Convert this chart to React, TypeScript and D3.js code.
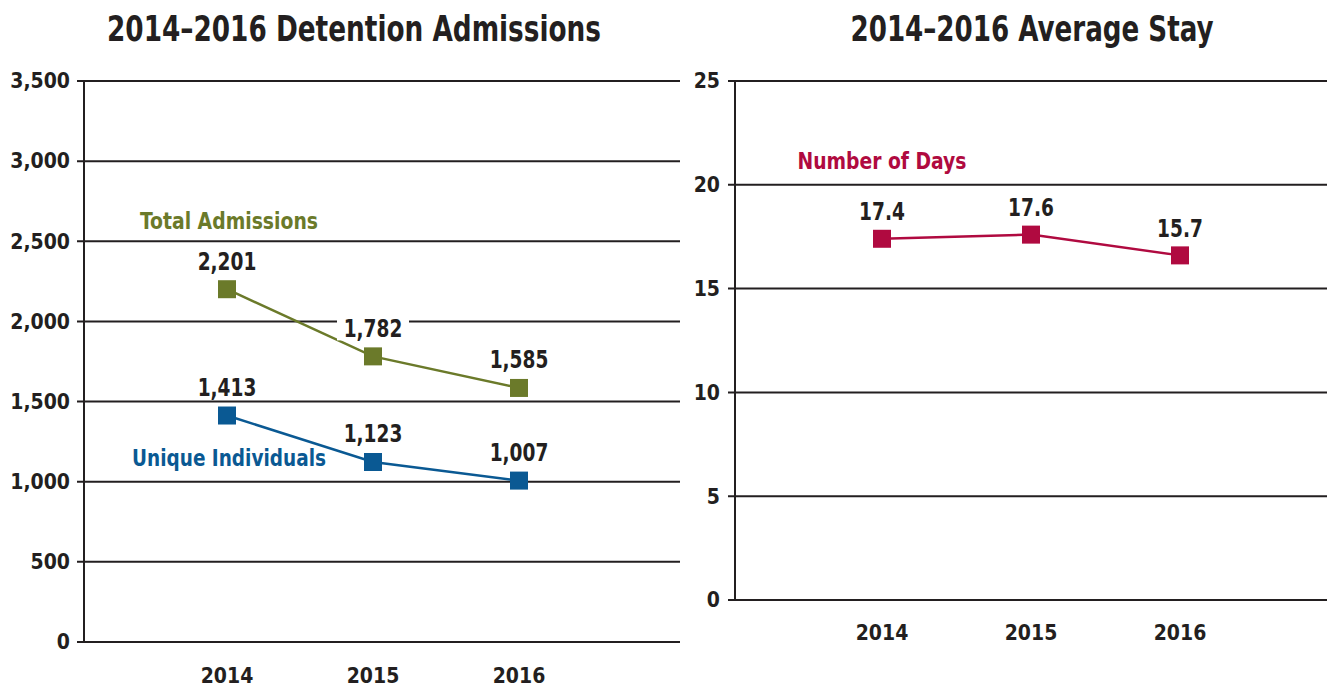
import React from "react";
import * as d3 from "d3";

const years = ["2014", "2015", "2016"];
const totalAdmissions = [2201, 1782, 1585];
const uniqueIndividuals = [1413, 1123, 1007];
const avgStayDays = [17.4, 17.6, 16.6];
const avgStayLabels = ["17.4", "17.6", "15.7"];
const admissionTicks = [0, 500, 1000, 1500, 2000, 2500, 3000, 3500];
const stayTicks = [0, 5, 10, 15, 20, 25];

const FONT = "'Liberation Sans Narrow', 'DejaVu Sans Condensed', 'Roboto', sans-serif";
const INK = "#231f20";
const OLIVE = "#6b7a2a";
const BLUE = "#0a5993";
const CRIMSON = "#b00a40";

const fmt = d3.format(",");

const Marker = ({ x, y, color }) => (
  <rect x={x - 9} y={y - 9} width={18} height={18} fill={color} />
);

// condensed text, squeezed horizontally around its anchor
const NarrowText = ({ x, y, size, fill, children, squeeze = 0.86 }) => (
  <text
    transform={`translate(${x},${y}) scale(${squeeze},1)`}
    dy="0.35em"
    textAnchor="middle"
    fontSize={size}
    fill={fill}
  >
    {children}
  </text>
);

const App = () => {
  // left panel scales
  const xL = d3.scalePoint().domain(years).range([227, 519]);
  const yL = d3.scaleLinear().domain([0, 3500]).range([642, 81]);
  // right panel scales
  const xR = d3.scalePoint().domain(years).range([882, 1180]);
  const yR = d3.scaleLinear().domain([0, 25]).range([600, 81]);

  const lineL = (vals) =>
    d3.line().x((d, i) => xL(years[i])).y((d) => yL(d))(vals);
  const lineR = d3
    .line()
    .x((d, i) => xR(years[i]))
    .y((d) => yR(d))(avgStayDays);

  const series = [
    { vals: totalAdmissions, color: OLIVE },
    { vals: uniqueIndividuals, color: BLUE },
  ];

  return (
    <svg
      width={1327}
      height={687}
      style={{ position: "absolute", left: 0, top: 0, background: "#fff" }}
      fontFamily={FONT}
      fontWeight="bold"
    >
      {/* titles */}
      <text x={354} y={41} textAnchor="middle" fontSize={35} fill={INK}
        textLength={494} lengthAdjust="spacingAndGlyphs">
        2014–2016 Detention Admissions
      </text>
      <text x={1032} y={41} textAnchor="middle" fontSize={35} fill={INK}
        textLength={363} lengthAdjust="spacingAndGlyphs">
        2014–2016 Average Stay
      </text>

      {/* left grid + axis */}
      {admissionTicks.map((t) => (
        <g key={t}>
          <line x1={77} x2={680} y1={yL(t)} y2={yL(t)} stroke={INK} strokeWidth={2} />
          <text x={70} y={yL(t)} dy="0.35em" textAnchor="end" fontSize={21} fill={INK}>
            {fmt(t)}
          </text>
        </g>
      ))}
      <line x1={84} x2={84} y1={yL(3500)} y2={yL(0)} stroke={INK} strokeWidth={2} />
      {years.map((yr) => (
        <text key={yr} x={xL(yr)} y={683} textAnchor="middle" fontSize={21} fill={INK}>
          {yr}
        </text>
      ))}

      {/* left series */}
      {series.map((s, si) => (
        <g key={si}>
          <path d={lineL(s.vals)} fill="none" stroke={s.color} strokeWidth={2.5} />
          {s.vals.map((v, i) => (
            <Marker key={i} x={xL(years[i])} y={yL(v)} color={s.color} />
          ))}
        </g>
      ))}
      {series.map((s, si) =>
        s.vals.map((v, i) => {
          const cx = xL(years[i]);
          const cy = yL(v) - 28;
          return (
            <g key={si + "-" + i}>
              {si === 0 && i === 1 && (
                <rect x={cx - 36} y={cy - 14} width={72} height={26} fill="#fff" />
              )}
              <NarrowText x={cx} y={cy} size={24} fill={INK}>
                {fmt(v)}
              </NarrowText>
            </g>
          );
        })
      )}
      <text x={229} y={221} dy="0.35em" textAnchor="middle" fontSize={23} fill={OLIVE}
        textLength={178} lengthAdjust="spacingAndGlyphs">
        Total Admissions
      </text>
      <text x={229} y={458} dy="0.35em" textAnchor="middle" fontSize={23} fill={BLUE}
        textLength={194} lengthAdjust="spacingAndGlyphs">
        Unique Individuals
      </text>

      {/* right grid + axis */}
      {stayTicks.map((t) => (
        <g key={t}>
          <line x1={728} x2={1327} y1={yR(t)} y2={yR(t)} stroke={INK} strokeWidth={2} />
          <text x={720} y={yR(t)} dy="0.35em" textAnchor="end" fontSize={21} fill={INK}>
            {t}
          </text>
        </g>
      ))}
      <line x1={735} x2={735} y1={yR(25)} y2={yR(0)} stroke={INK} strokeWidth={2} />
      {years.map((yr) => (
        <text key={yr} x={xR(yr)} y={640} textAnchor="middle" fontSize={21} fill={INK}>
          {yr}
        </text>
      ))}

      <path d={lineR} fill="none" stroke={CRIMSON} strokeWidth={2.5} />
      {avgStayDays.map((v, i) => (
        <g key={i}>
          <Marker x={xR(years[i])} y={yR(v)} color={CRIMSON} />
          <NarrowText x={xR(years[i])} y={yR(v) - 27} size={24} fill={INK}>
            {avgStayLabels[i]}
          </NarrowText>
        </g>
      ))}
      <text x={882} y={161} dy="0.35em" textAnchor="middle" fontSize={23} fill={CRIMSON}
        textLength={169} lengthAdjust="spacingAndGlyphs">
        Number of Days
      </text>
    </svg>
  );
};

export default App;
